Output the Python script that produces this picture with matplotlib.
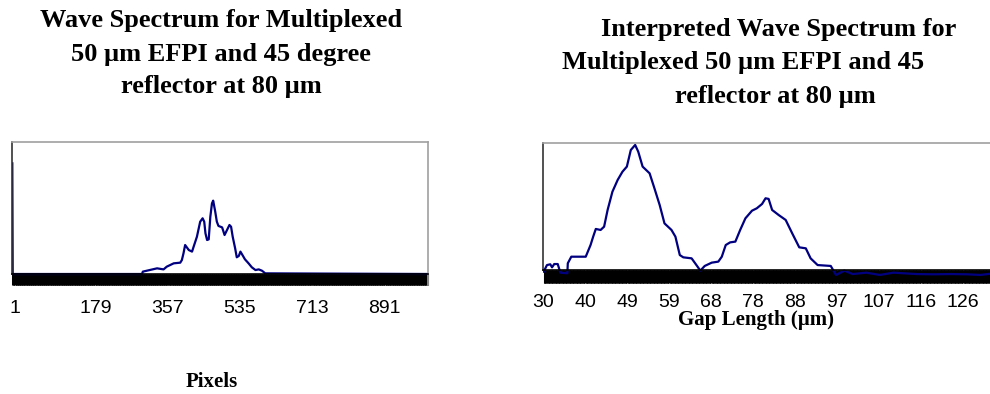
import numpy as np
import matplotlib.pyplot as plt
from matplotlib.ticker import FixedLocator

# Raw spectrum: pixel index vs. normalised intensity
pixel_idx = [1, 2, 320, 322, 357, 373, 381, 398, 414, 418, 422, 426, 435, 443, 447,
             455, 463, 469, 473, 476, 480, 484, 488, 492, 495, 500, 504, 508, 517,
             523, 529, 535, 539, 543, 549, 553, 558, 562, 567, 573, 582, 590, 599,
             607, 615, 623, 1024]
pixel_val = [0.84, 0.0, 0.0, 0.018, 0.043, 0.035, 0.056, 0.081, 0.086, 0.106, 0.157,
             0.22, 0.182, 0.17, 0.208, 0.283, 0.397, 0.423, 0.397, 0.309, 0.258, 0.263,
             0.435, 0.536, 0.557, 0.474, 0.397, 0.365, 0.354, 0.296, 0.334, 0.372,
             0.359, 0.283, 0.195, 0.127, 0.137, 0.17, 0.144, 0.112, 0.081, 0.051,
             0.030, 0.035, 0.025, 0.005, 0.0]
pixel_ticks = [7, 205, 383, 561, 739, 917]
pixel_labels = ['1', '179', '357', '535', '713', '891']

# Interpreted spectrum: gap length (um) vs. normalised intensity
gap_um = [30.08, 30.84, 31.6, 32.0, 32.5, 33.3, 33.9, 35.5, 35.6, 36.4, 39.7, 40.8,
          41.4, 42.0, 43.1, 43.9, 44.7, 45.8, 47.0, 48.1, 49.1, 50.0, 51.0, 51.7,
          52.7, 54.3, 55.4, 56.6, 57.7, 59.3, 60.2, 61.2, 62.0, 63.9, 65.0, 65.9,
          66.9, 68.5, 70.0, 70.8, 71.7, 72.7, 73.9, 75.0, 76.2, 77.7, 78.8, 80.0,
          80.8, 81.5, 82.3, 83.8, 85.4, 86.9, 88.5, 90.0, 91.1, 92.7, 95.7, 96.9,
          98.8, 100.7, 103.8, 106.9, 110.0, 115.3, 119.2, 123.0, 126.8, 129.9,
          133.0, 134.4]
gap_val = [-0.013, 0.039, 0.045, 0.021, 0.047, 0.047, -0.021, -0.026, 0.053, 0.105,
           0.105, 0.197, 0.263, 0.324, 0.316, 0.342, 0.474, 0.618, 0.711, 0.776,
           0.816, 0.947, 0.987, 0.934, 0.816, 0.763, 0.645, 0.513, 0.368, 0.316,
           0.263, 0.118, 0.1, 0.092, 0.039, -0.005, 0.032, 0.058, 0.066, 0.105,
           0.197, 0.218, 0.224, 0.316, 0.408, 0.468, 0.487, 0.521, 0.566, 0.561,
           0.474, 0.434, 0.395, 0.289, 0.179, 0.171, 0.092, 0.039, 0.032, -0.039,
           -0.005, -0.032, -0.021, -0.039, -0.021, -0.032, -0.034, -0.032, -0.034,
           -0.039, -0.026, -0.032]
gap_ticks = [30 + 9.6 * k for k in range(11)]
gap_labels = ['30', '40', '49', '59', '68', '78', '88', '97', '107', '116', '126']

W, H = 990, 394
fig = plt.figure(figsize=(W / 100, H / 100), dpi=100)

serif = 'Liberation Serif'
sans = 'Liberation Sans'
line_color = '#000080'


def frac_box(x0, y0, x1, y1):
    # pixel box (top-left origin) -> figure fraction rect
    return [x0 / W, 1 - y1 / H, (x1 - x0) / W, (y1 - y0) / H]


def style_axes(ax, tick_len, label_pad):
    ax.spines['bottom'].set_position(('data', 0))
    ax.spines['bottom'].set_color('black')
    ax.spines['left'].set_color('#333333')
    ax.spines['left'].set_bounds(0, 1)
    ax.spines['top'].set_color('#a0a0a0')
    ax.spines['right'].set_color('#a0a0a0')
    for s in ax.spines.values():
        s.set_linewidth(1.2)
    ax.set_yticks([])
    ax.tick_params(axis='x', which='major', length=0, pad=label_pad,
                   labelsize=14)
    ax.tick_params(axis='x', which='minor', length=tick_len, width=0.75,
                   color='black', direction='out')
    for lab in ax.get_xticklabels():
        lab.set_fontfamily(sans)


# left panel: raw pixels
ax1 = fig.add_axes(frac_box(12.3, 142.3, 428.3, 285))
ax1.plot(pixel_idx, pixel_val, color=line_color, lw=1.6)
ax1.set_xlim(1, 1024)
ax1.set_ylim(-11 / 131.7, 1)
ax1.set_xticks(pixel_ticks)
ax1.set_xticklabels(pixel_labels)
ax1.xaxis.set_minor_locator(FixedLocator(np.arange(1, 1025)))
style_axes(ax1, 8, 19)

# right panel: gap length
ax2 = fig.add_axes(frac_box(543.3, 143.3, 1000, 282.7))
ax2.plot(gap_um, gap_val, color=line_color, lw=1.6)
ax2.set_xlim(30, 30 + 456.7 / 4.375)
ax2.set_ylim(-12.7 / 126.7, 1)
ax2.set_xticks(gap_ticks)
ax2.set_xticklabels(gap_labels)
ax2.xaxis.set_minor_locator(FixedLocator(np.arange(30, 134.5, 0.1)))
style_axes(ax2, 9, 17)


def fig_text(x, y, s, size):
    fig.text(x / W, 1 - y / H, s, ha='center', va='baseline',
             fontsize=size, fontweight='bold', family=serif)


fig_text(221, 26.7, 'Wave Spectrum for Multiplexed', 19)
fig_text(221, 60.7, '50 µm EFPI and 45 degree', 19)
fig_text(221, 92.7, 'reflector at 80 µm', 19)

fig_text(779, 36, 'Interpreted Wave Spectrum for', 19)
fig_text(743, 69.3, 'Multiplexed 50 µm EFPI and 45', 19)
fig_text(775, 102.7, 'reflector at 80 µm', 19)

fig_text(212, 387, 'Pixels', 15)
fig_text(756.5, 325, 'Gap Length (µm)', 15)

fig.savefig('out.png', dpi=100)
